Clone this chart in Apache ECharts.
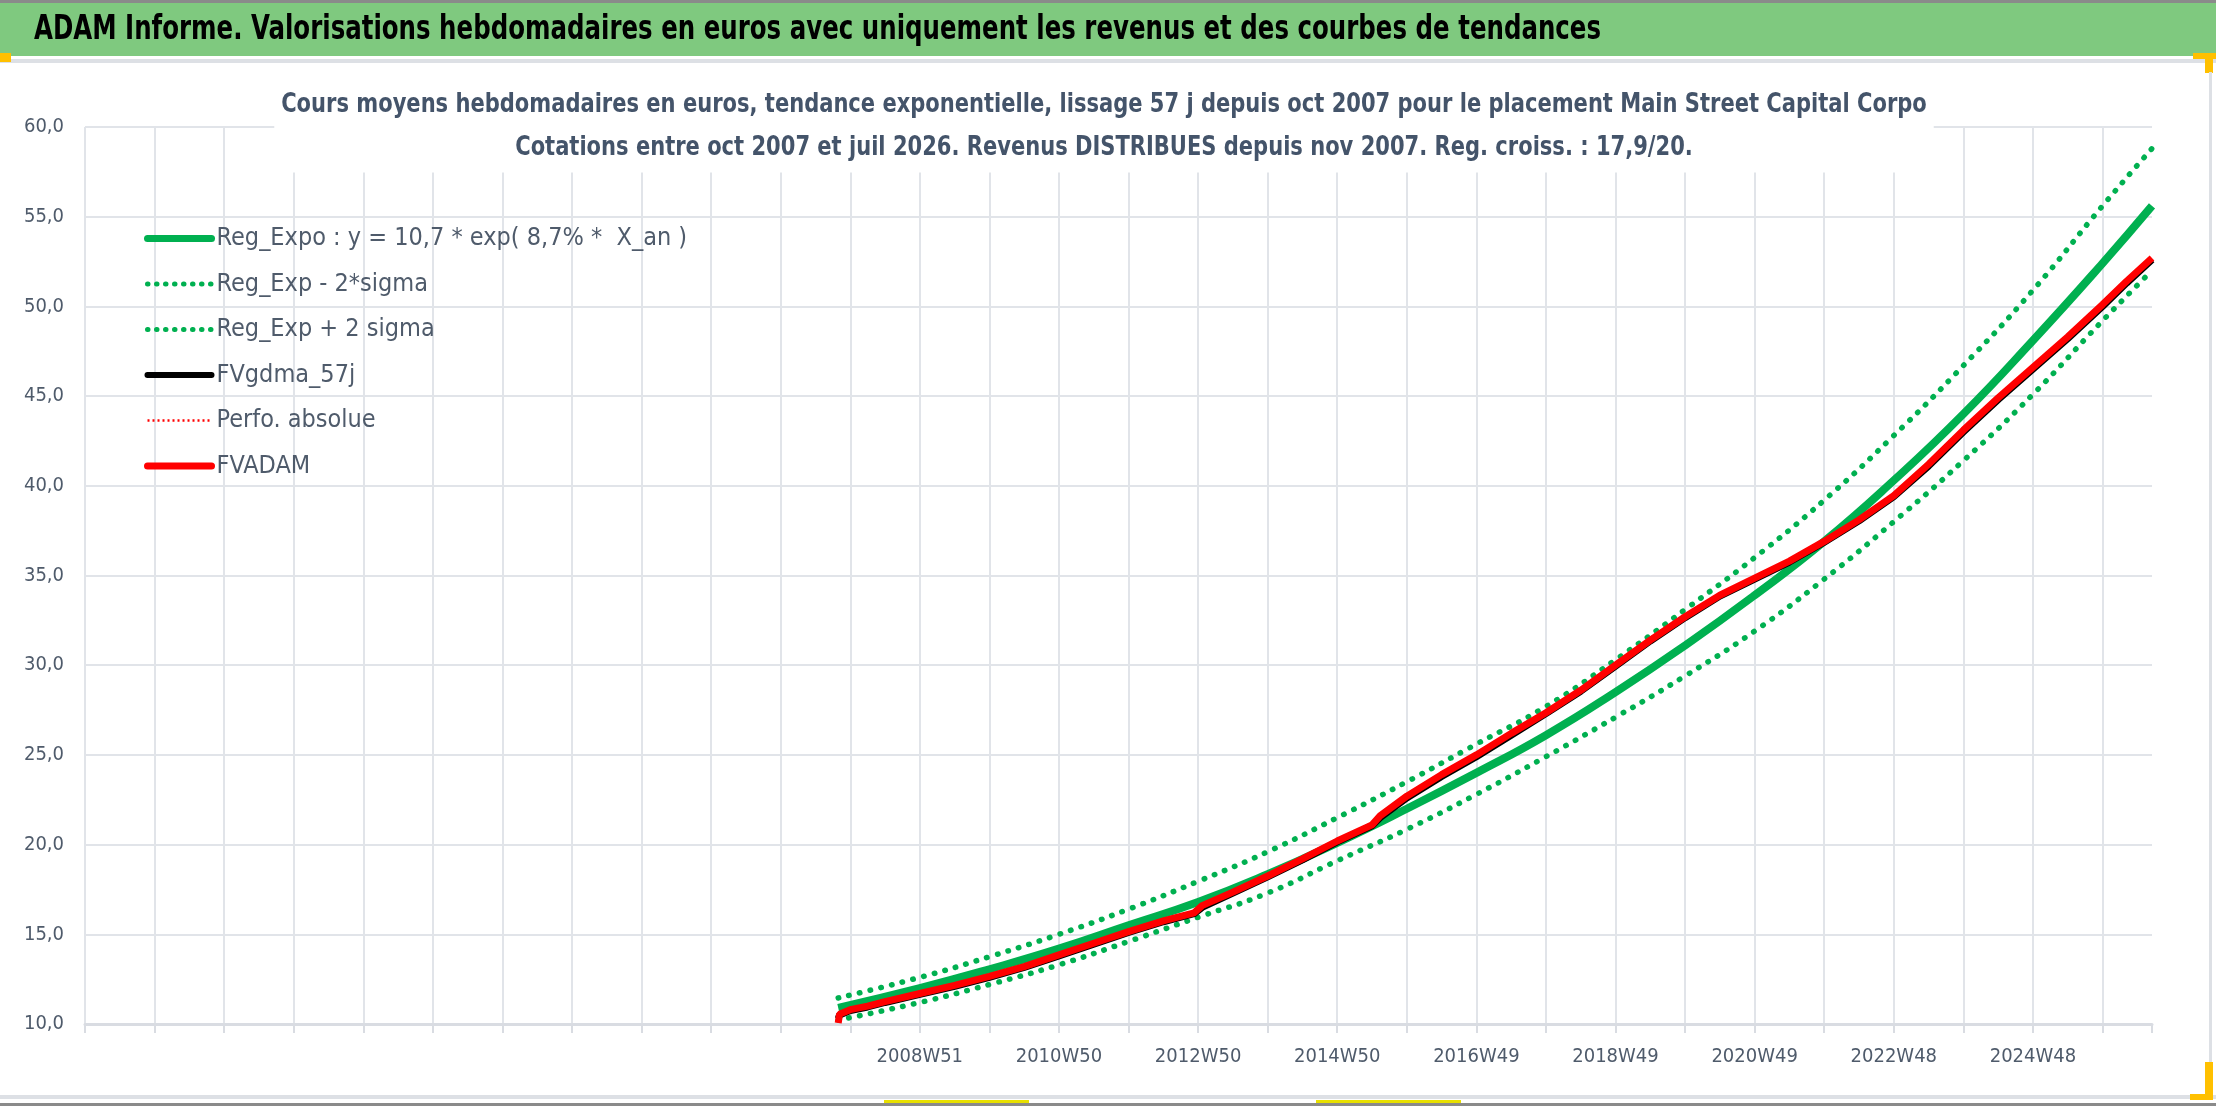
<!DOCTYPE html>
<html>
<head>
<meta charset="utf-8">
<title>ADAM Informe - Main Street Capital</title>
<script src="https://cdn.jsdelivr.net/npm/echarts@6/dist/echarts.min.js"></script>
<style>
  html, body { margin: 0; padding: 0; background: #fff; }
  #chart { width: 2216px; height: 1106px; }
</style>
</head>
<body>
<div id="chart"></div>
<script>
var FONT = "'DejaVu Sans Condensed', 'Liberation Sans', sans-serif";

var bannerTitle = 'ADAM Informe. Valorisations hebdomadaires en euros avec uniquement les revenus et des courbes de tendances';
var chartTitle = [
  'Cours moyens hebdomadaires en euros, tendance exponentielle, lissage 57 j depuis oct 2007 pour le placement Main Street Capital Corpo',
  'Cotations entre oct 2007 et juil 2026. Revenus DISTRIBUES depuis nov 2007. Reg. croiss. : 17,9/20.'
];

// x axis = week number on the sheet (first rows are empty), one grid line every 52 weeks
var xLabels = ['2008W51', '2010W50', '2012W50', '2014W50', '2016W49', '2018W49', '2020W49', '2022W48', '2024W48'];
var xLabelFirst = 624;   // week of 2008W51
var xLabelStep = 104;
var xLastWeek = 1545;

// trend curves (read about once a year)
var trendWeeks = [563, 624, 676, 728, 780, 832, 884, 936, 988, 1040, 1092, 1144, 1196, 1248, 1300, 1352, 1404, 1456, 1508, 1545];
var regExpo   = [10.9, 12.0, 13.05, 14.2, 15.5, 16.8, 18.35, 20.1, 22.0, 24.0, 26.1, 28.5, 31.1, 33.9, 36.9, 40.3, 44.0, 48.1, 52.4, 55.6];
var regDown   = [10.22, 11.2, 12.2, 13.3, 14.6, 15.95, 17.3, 19.1, 20.85, 22.8, 24.9, 27.1, 29.4, 31.9, 34.8, 38.0, 41.4, 45.1, 49.2, 52.0];
var regUp     = [11.45, 12.6, 13.75, 15.0, 16.4, 17.95, 19.6, 21.5, 23.5, 25.6, 27.7, 30.3, 33.1, 36.0, 39.2, 42.8, 46.7, 50.9, 55.6, 58.8];

// valorisation curves (read about twice a year)
var adamWeeks = [563, 564, 572, 585, 598, 624, 650, 676, 702, 728, 754, 780, 806, 829, 835, 858, 884, 910, 936, 962, 968, 988,
                 1014, 1040, 1066, 1092, 1118, 1144, 1170, 1196, 1222, 1248, 1274, 1300, 1326, 1352, 1378, 1404, 1430, 1456, 1482, 1508, 1526, 1545];
var fvadam = [10.05, 10.55, 10.8, 11.0, 11.25, 11.7, 12.15, 12.65, 13.2, 13.85, 14.5, 15.15, 15.75, 16.2, 16.6, 17.35, 18.25, 19.2, 20.2, 21.1, 21.6, 22.7,
              23.9, 25.0, 26.2, 27.35, 28.6, 30.0, 31.4, 32.7, 33.9, 34.85, 35.8, 36.9, 38.1, 39.45, 41.2, 43.1, 44.9, 46.6, 48.3, 50.1, 51.4, 52.7];
var fvgdma57 = [10.3, 10.5, 10.75, 10.95, 11.2, 11.65, 12.1, 12.6, 13.15, 13.8, 14.45, 15.1, 15.7, 16.15, 16.5, 17.3, 18.2, 19.15, 20.15, 21.05, 21.5, 22.6,
                23.8, 24.9, 26.1, 27.3, 28.55, 29.95, 31.35, 32.65, 33.85, 34.8, 35.75, 36.85, 38.05, 39.4, 41.1, 43.0, 44.8, 46.5, 48.2, 50.0, 51.3, 52.6];
var perfoAbsolue = []; // no visible trace on the picture

var seriesNames = ['Reg_Expo : y = 10,7 * exp( 8,7% *  X_an )', 'Reg_Exp - 2*sigma', 'Reg_Exp + 2 sigma', 'FVgdma_57j', 'Perfo. absolue', 'FVADAM'];

function pairs(xs, ys) {
  return ys.map(function (v, i) { return [xs[i], v]; });
}

var green = '#00b050';
var red = '#ff0000';
var labelColor = '#4f5b6b';
var gridColor = '#e1e4e9';
var dots = { type: [0.5, 10.5], cap: 'round', width: 5.5, color: green };

var chart = echarts.init(document.getElementById('chart'));

var option = {
  backgroundColor: '#fff',
  animation: false,
  legend: {
    orient: 'vertical',
    left: 139,
    top: 221,
    itemWidth: 64,
    itemHeight: 26,
    itemGap: 20.5,
    itemStyle: { opacity: 0 },
    data: [
      { name: seriesNames[0], lineStyle: { width: 7, cap: 'round' } },
      { name: seriesNames[1], lineStyle: { width: 5, type: [0.5, 8.5], cap: 'round' } },
      { name: seriesNames[2], lineStyle: { width: 5, type: [0.5, 8.5], cap: 'round' } },
      { name: seriesNames[3], lineStyle: { width: 6, cap: 'round' } },
      { name: seriesNames[4], lineStyle: { width: 2.5, type: [2, 3] } },
      { name: seriesNames[5], lineStyle: { width: 7, cap: 'round' } }
    ],
    textStyle: { fontFamily: FONT, fontSize: 25, color: labelColor }
  },
  grid: { left: 85, right: 64, top: 127, bottom: 82 },
  xAxis: {
    type: 'value',
    min: 0,
    max: xLastWeek,
    interval: 52,
    axisLine: { show: true, lineStyle: { color: '#d9dce2', width: 3 } },
    axisTick: { show: true, length: 9, lineStyle: { color: '#d9dce2', width: 2 } },
    splitLine: { show: true, showMaxLine: false, lineStyle: { color: gridColor, width: 2 } },
    axisLabel: {
      margin: 23,
      fontFamily: FONT,
      fontSize: 20,
      color: labelColor,
      formatter: function (v) {
        var i = (v - xLabelFirst) / xLabelStep;
        return (Number.isInteger(i) && i >= 0 && i < xLabels.length) ? xLabels[i] : '';
      }
    }
  },
  yAxis: {
    type: 'value',
    min: 10,
    max: 60,
    interval: 5,
    axisLine: { show: false },
    axisTick: { show: false },
    splitLine: { show: true, lineStyle: { color: gridColor, width: 2 } },
    axisLabel: {
      margin: 21,
      fontFamily: FONT,
      fontSize: 20,
      color: labelColor,
      formatter: function (v) { return v.toFixed(1).replace('.', ','); }
    }
  },
  series: [
    { name: seriesNames[0], type: 'line', smooth: true, symbol: 'none',
      lineStyle: { color: green, width: 8 }, itemStyle: { color: green },
      data: pairs(trendWeeks, regExpo) },
    { name: seriesNames[1], type: 'line', smooth: true, symbol: 'none',
      lineStyle: dots, itemStyle: { color: green },
      data: pairs(trendWeeks, regDown) },
    { name: seriesNames[2], type: 'line', smooth: true, symbol: 'none',
      lineStyle: dots, itemStyle: { color: green },
      data: pairs(trendWeeks, regUp) },
    { name: seriesNames[3], type: 'line', symbol: 'none',
      lineStyle: { color: '#000', width: 7 }, itemStyle: { color: '#000' },
      data: pairs(adamWeeks, fvgdma57) },
    { name: seriesNames[4], type: 'line', symbol: 'none',
      lineStyle: { color: red, width: 2, type: [2, 3] }, itemStyle: { color: red },
      data: perfoAbsolue },
    { name: seriesNames[5], type: 'line', symbol: 'none',
      lineStyle: { color: red, width: 7 }, itemStyle: { color: red },
      data: pairs(adamWeeks, fvadam) }
  ],
  graphic: [
    { type: 'rect', shape: { x: 0, y: 0, width: 2216, height: 3 }, style: { fill: '#8a8a8a' } },
    { type: 'rect', shape: { x: 0, y: 3, width: 2216, height: 53 }, style: { fill: '#7fc97f' } },
    { type: 'text', x: 34, y: 30, scaleX: 0.8,
      style: { text: bannerTitle, font: 'bold 34px ' + FONT, fill: '#000', textVerticalAlign: 'middle' } },
    { type: 'rect', shape: { x: 0, y: 59, width: 2216, height: 4 }, style: { fill: '#dde0e5' } },
    // chart title, on a white box over the top grid lines
    { type: 'text', x: 1104, y: 126.5, scaleX: 0.866, z: 10,
      style: { text: chartTitle.join('\n'), font: 'bold 27px ' + FONT, lineHeight: 43, fill: '#44546a',
               align: 'center', verticalAlign: 'middle', backgroundColor: '#fff', padding: [0, 8, 6, 8] } },
    { type: 'rect', shape: { x: 0, y: 53, width: 11, height: 9 }, style: { fill: '#ffc000' } },
    { type: 'rect', shape: { x: 2193, y: 53, width: 23, height: 6 }, style: { fill: '#ffc000' } },
    { type: 'rect', shape: { x: 2205, y: 53, width: 8, height: 20 }, style: { fill: '#ffc000' } },
    { type: 'rect', shape: { x: 2209, y: 72, width: 3, height: 1026 }, style: { fill: '#dde0e5' } },
    { type: 'rect', shape: { x: 0, y: 1095, width: 2216, height: 4 }, style: { fill: '#dde0e5' } },
    { type: 'rect', shape: { x: 2205, y: 1062, width: 8, height: 38 }, style: { fill: '#ffc000' } },
    { type: 'rect', shape: { x: 2190, y: 1094, width: 23, height: 6 }, style: { fill: '#ffc000' } },
    { type: 'rect', shape: { x: 884, y: 1100, width: 145, height: 3 }, style: { fill: '#e8e000' } },
    { type: 'rect', shape: { x: 1316, y: 1100, width: 145, height: 3 }, style: { fill: '#e8e000' } },
    { type: 'rect', shape: { x: 0, y: 1103, width: 2216, height: 3 }, style: { fill: '#8a8a8a' } }
  ]
};

chart.setOption(option);
</script>
</body>
</html>
